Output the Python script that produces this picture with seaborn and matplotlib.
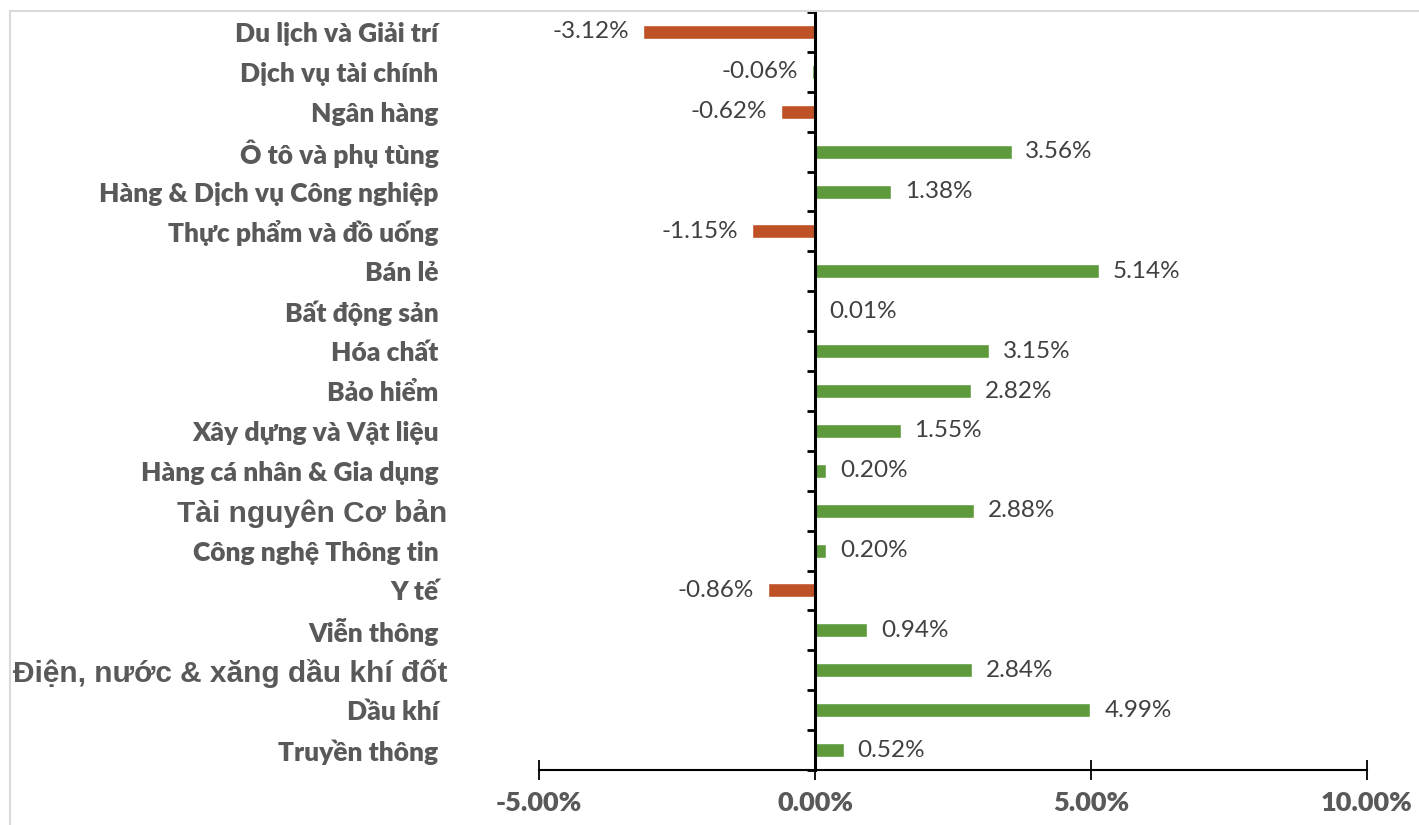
import matplotlib
matplotlib.use('Agg')
import matplotlib.pyplot as plt
from matplotlib.patches import Rectangle
from matplotlib.ticker import FixedLocator
from matplotlib.transforms import ScaledTranslation
import seaborn as sns
import pandas as pd
import numpy as np

sectors = ['Du lịch và Giải trí', 'Dịch vụ tài chính', 'Ngân hàng', 'Ô tô và phụ tùng',
           'Hàng & Dịch vụ Công nghiệp', 'Thực phẩm và đồ uống', 'Bán lẻ', 'Bất động sản',
           'Hóa chất', 'Bảo hiểm', 'Xây dựng và Vật liệu', 'Hàng cá nhân & Gia dụng',
           'Tài nguyên Cơ bản', 'Công nghệ Thông tin', 'Y tế', 'Viễn thông',
           'Điện, nước & xăng dầu khí đốt', 'Dầu khí', 'Truyền thông']
change = [-3.12, -0.06, -0.62, 3.56, 1.38, -1.15, 5.14, 0.01, 3.15, 2.82, 1.55, 0.20,
          2.88, 0.20, -0.86, 0.94, 2.84, 4.99, 0.52]
xticks = [-5, 0, 5, 10]
arial_labels = ['Tài nguyên Cơ bản', 'Điện, nước & xăng dầu khí đốt']

df = pd.DataFrame({'sector': sectors, 'change': change})
pos_col = '#5E9A3C'
neg_col = '#BF5127'
colors = [neg_col if v < -0.1 else pos_col for v in change]

sns.set_style('white')
plt.rcParams['font.family'] = ['Lato', 'DejaVu Sans']

fig = plt.figure(figsize=(14.19, 8.25), dpi=100)
ax = fig.add_axes([539 / 1419, 1 - 770 / 825, (1367 - 539) / 1419, (770 - 12) / 825])

sns.barplot(data=df, x='change', y='sector', hue='sector', palette=colors,
            orient='h', width=0.35, legend=False, ax=ax, saturation=1)

for c in ax.containers:
    ax.bar_label(c, labels=[f'{v:.2f}%' for v in c.datavalues], padding=10,
                 fontsize=17.5, color='#404040')

ax.set_xlim(-5, 10)
ax.set_ylim(len(sectors) - 0.5, -0.5)
ax.set_xticks(xticks)
ax.set_xticklabels([f'{t:.2f}%' for t in xticks])
for lab in ax.get_xticklabels():
    lab.set_fontsize(19.5)
    lab.set_fontweight('heavy')
    lab.set_color('#595959')
ax.set_xlabel('')
ax.set_ylabel('')

for s in ['top', 'right']:
    ax.spines[s].set_visible(False)
ax.spines['bottom'].set_color('black')
ax.spines['bottom'].set_linewidth(1.5)
ax.spines['left'].set_position(('data', 0))
ax.spines['left'].set_color('black')
ax.spines['left'].set_linewidth(2.2)
ax.tick_params(axis='x', bottom=True, direction='inout', length=14, width=1.3,
               color='black', pad=8)

ax.yaxis.set_minor_locator(FixedLocator(np.arange(len(sectors) + 1) - 0.5))
ax.tick_params(axis='y', which='minor', left=True, direction='out', length=6, width=2,
               color='black')
ax.tick_params(axis='y', which='major', left=True, length=0, pad=271)
shift = ScaledTranslation(9 / 100, 0, fig.dpi_scale_trans)
for lab in ax.get_yticklabels():
    lab.set_color('#595959')
    lab.set_fontweight('heavy')
    if lab.get_text() in arial_labels:
        lab.set_family(['Liberation Sans', 'DejaVu Sans'])
        lab.set_fontweight('bold')
        lab.set_fontsize(21.5)
        lab.set_transform(lab.get_transform() + shift)
    else:
        lab.set_fontsize(19)

fig.add_artist(Rectangle((10 / 1419, -0.05), 1.1, 1.05 - 11 / 825, transform=fig.transFigure,
                         fill=False, edgecolor='#D9D9D9', linewidth=1.5))

fig.savefig('out.png', dpi=100)
